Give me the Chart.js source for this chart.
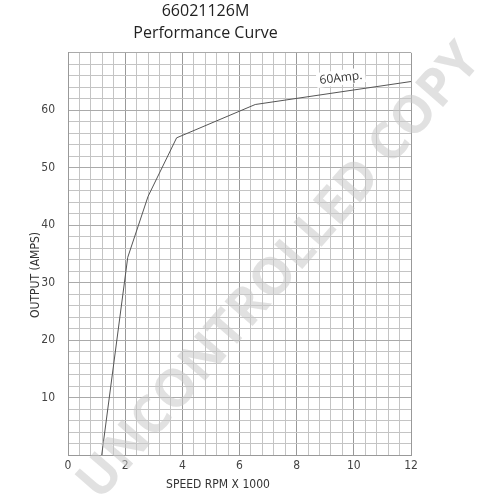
<!DOCTYPE html>
<html>
<head>
<meta charset="utf-8">
<script src="https://cdn.jsdelivr.net/npm/chart.js@4"></script>
<style>
html,body{margin:0;padding:0;background:#fff;}
#wrap{width:500px;height:500px;position:relative;}
</style>
</head>
<body>
<div id="wrap"><canvas id="c" width="500" height="500"></canvas></div>
<script>
// Data
const speedRpmK = [1.18, 2.09, 2.8, 3.8, 6.55, 12.0];
const outputAmps = [0, 34.4, 45, 55.2, 61, 65];
const xTickLabels = [0, 2, 4, 6, 8, 10, 12];
const yTickLabels = [10, 20, 30, 40, 50, 60];
const titleLines = ["66021126M", "Performance Curve"];
const curveLabel = "60Amp.";
const curveLabelAt = [9.55, 65.6];
const watermark = "UNCONTROLLED COPY";

const tickFont = {family: "'Liberation Sans Narrow','DejaVu Sans Condensed','Open Sans',sans-serif", size: 12};
const near = (v, arr) => arr.find(a => Math.abs(a - v) < 1e-6);

const extras = {
  id: 'extras',
  afterDraw(chart) {
    const ctx = chart.ctx;
    const ca = chart.chartArea;
    const xs = chart.scales.x, ys = chart.scales.y;
    ctx.save();
    // curve label with white box
    const lx = xs.getPixelForValue(curveLabelAt[0]);
    const ly = ys.getPixelForValue(curveLabelAt[1]);
    ctx.translate(lx, ly);
    ctx.rotate(-7 * Math.PI / 180);
    ctx.font = "12px 'Open Sans', sans-serif";
    const w = ctx.measureText(curveLabel).width;
    ctx.fillStyle = '#fff';
    ctx.fillRect(-w / 2 - 3, -8, w + 6, 15);
    ctx.fillStyle = '#333';
    ctx.textAlign = 'center';
    ctx.textBaseline = 'middle';
    ctx.fillText(curveLabel, 0, 0);
    ctx.restore();

    // axis titles
    ctx.save();
    ctx.fillStyle = '#333';
    ctx.font = "12px 'Liberation Sans Narrow','DejaVu Sans Condensed','Open Sans',sans-serif";
    ctx.textAlign = 'center';
    ctx.textBaseline = 'middle';
    ctx.fillText('SPEED RPM X 1000', ca.left + 150, 485);
    ctx.translate(36, 275);
    ctx.rotate(-Math.PI / 2);
    ctx.fillText('OUTPUT (AMPS)', 0, 0);
    ctx.restore();

    // watermark
    ctx.save();
    ctx.translate(280, 272);
    ctx.rotate(-49 * Math.PI / 180);
    ctx.font = "bold 52px 'Open Sans', sans-serif";
    ctx.fillStyle = 'rgba(200,200,200,0.55)';
    ctx.textAlign = 'center';
    ctx.textBaseline = 'middle';
    ctx.fillText(watermark, 0, 0);
    ctx.restore();
  }
};

new Chart(document.getElementById('c'), {
  type: 'scatter',
  data: {
    datasets: [{
      data: speedRpmK.map((x, i) => ({x, y: outputAmps[i]})),
      showLine: true,
      borderColor: '#555',
      borderWidth: 1,
      pointRadius: 0,
      tension: 0
    }]
  },
  options: {
    responsive: false,
    animation: false,
    layout: {padding: {left: 0, right: 89, top: 0, bottom: 0}},
    plugins: {
      legend: {display: false},
      tooltip: {enabled: false},
      title: {
        display: true,
        text: titleLines,
        color: '#222',
        font: {family: "'Open Sans', sans-serif", size: 16, weight: 'normal', lineHeight: 1.4},
        padding: {top: 0, bottom: 8}
      }
    },
    scales: {
      x: {
        type: 'linear',
        min: 0, max: 12,
        afterFit(s) { s.height = 45; },
        ticks: {
          stepSize: 0.4,
          autoSkip: false,
          maxRotation: 0,
          color: '#444',
          font: tickFont,
          padding: 4,
          callback: v => { const m = near(v, xTickLabels); return m !== undefined ? String(m) : ''; }
        },
        grid: {
          color: ctx => (ctx.tick && near(ctx.tick.value, xTickLabels) !== undefined) ? '#999' : '#c4c4c4',
          lineWidth: 1,
          drawTicks: false
        },
        border: {display: true, color: '#999'}
      },
      y: {
        type: 'linear',
        min: 0, max: 70,
        afterFit(s) { s.width = 68; },
        ticks: {
          stepSize: 2,
          autoSkip: false,
          color: '#444',
          font: tickFont,
          padding: 13,
          callback: v => { const m = near(v, yTickLabels); return m !== undefined ? String(m) : ''; }
        },
        grid: {
          color: ctx => (ctx.tick && ctx.tick.value % 10 === 0) ? '#aaa' : '#c4c4c4',
          lineWidth: 1,
          drawTicks: false
        },
        border: {display: true, color: '#999'}
      }
    }
  },
  plugins: [extras]
});
</script>
</body>
</html>
